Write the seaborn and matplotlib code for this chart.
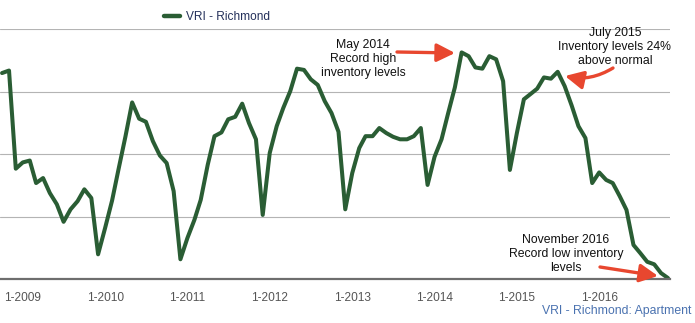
import matplotlib
matplotlib.use("Agg")
import matplotlib.pyplot as plt
import seaborn as sns
import pandas as pd

# ---- data (monthly inventory index, Oct 2008 - Nov 2016; gridline spacing = 100) ----
start_month = "2008-10-01"
inventory = [
    330, 334, 177,                                                  # 2008 Oct-Dec
    187, 190, 154, 162, 138, 120, 92, 112, 125, 144, 130, 40,       # 2009
    82, 126, 175, 228, 283, 257, 252, 221, 198, 186, 141, 32,       # 2010
    66, 95, 127, 183, 229, 235, 256, 260, 281, 250, 224, 103,       # 2011
    202, 245, 274, 301, 337, 335, 320, 311, 285, 266, 236, 112,     # 2012
    170, 210, 229, 229, 242, 234, 228, 224, 224, 229, 242, 151,     # 2013
    196, 224, 264, 307, 363, 357, 339, 337, 357, 352, 317, 175,     # 2014
    234, 288, 296, 305, 323, 321, 332, 309, 278, 245, 226, 154,     # 2015
    171, 159, 154, 133, 111, 55, 42, 28, 24, 10, 2,                 # 2016 Jan-Nov
]
series_name = "VRI - Richmond"
tick_years = [2009, 2010, 2011, 2012, 2013, 2014, 2015, 2016]
tick_labels = [f"1-{y}" for y in tick_years]
grid_levels = [0, 100, 200, 300, 400]
source_label = "VRI - Richmond: Apartment"
notes = [
    "May 2014\nRecord high\ninventory levels",
    "July 2015\nInventory levels 24%\nabove normal",
    "November 2016\nRecord low inventory\nlevels",
]

months = pd.date_range(start_month, periods=len(inventory), freq="MS")
df = pd.DataFrame({"month": months, "inventory": inventory, "series": series_name})

sns.set_style("white")
plt.rcParams["font.family"] = ["Liberation Sans", "DejaVu Sans"]

W, H = 695, 323
fig = plt.figure(figsize=(W / 100, H / 100), dpi=100)
ax_left, ax_right, ax_top, ax_bottom = 0, 670, 29.3, 279.3
ax = fig.add_axes([ax_left / W, (H - ax_bottom) / H,
                   (ax_right - ax_left) / W, (ax_bottom - ax_top) / H])

green = "#2a5d34"
sns.lineplot(data=df, x="month", y="inventory", hue="series",
             palette=[green], linewidth=2.9, ax=ax, legend=True)

ax.set_xlim(pd.Timestamp("2008-09-22"), pd.Timestamp("2016-11-10"))
ax.set_ylim(grid_levels[0], grid_levels[-1])
ax.set_yticks(grid_levels)
ax.set_yticklabels([])
ax.tick_params(axis="y", length=0)
ax.grid(axis="y", color="#b4b4b4", linewidth=0.8)
ax.grid(axis="x", visible=False)
ax.set_axisbelow(True)
for s in ("top", "right", "left"):
    ax.spines[s].set_visible(False)
ax.spines["bottom"].set_color("#6e6e6e")
ax.spines["bottom"].set_linewidth(1.6)
ax.set_xticks([pd.Timestamp(f"{y}-01-01") for y in tick_years])
ax.set_xticklabels(tick_labels)
ax.tick_params(axis="x", length=3.8, width=1.4, color="#6e6e6e",
               labelsize=8.6, labelcolor="#555555", pad=5)
ax.set_xlabel("")
ax.set_ylabel("")

# legend
leg = ax.legend(loc="center left", bbox_to_anchor=(164 / W, 1 - 17 / H),
                bbox_transform=fig.transFigure, frameon=False, fontsize=8.6,
                handlelength=1.35, handletextpad=0.45, borderpad=0, borderaxespad=0)
for t in leg.get_texts():
    t.set_color("#24305a")
for l in leg.get_lines():
    l.set_linewidth(3.2)

# annotations (positions in axes fraction)
def af(px, py):
    return ((px - ax_left) / (ax_right - ax_left), (ax_bottom - py) / (ax_bottom - ax_top))

red = "#e8472f"
arrow = dict(arrowstyle="-|>,head_length=1.1,head_width=0.55", color=red, lw=2.4,
             shrinkA=0, shrinkB=0, mutation_scale=10)
txt = dict(fontsize=8.8, color="#111111", ha="center", va="center", linespacing=1.2)

ax.text(*af(363, 59), notes[0], transform=ax.transAxes, **txt)
ax.annotate("", xy=af(455, 53), xytext=af(397, 52), xycoords="axes fraction",
            textcoords="axes fraction", arrowprops=arrow, annotation_clip=False)

ax.text(*af(615, 47), notes[1], transform=ax.transAxes, clip_on=False, **txt)
ax.annotate("", xy=af(565, 76), xytext=af(613, 68), xycoords="axes fraction",
            textcoords="axes fraction", annotation_clip=False,
            arrowprops=dict(arrow, connectionstyle="arc3,rad=-0.2"))

ax.text(*af(566, 254), notes[2], transform=ax.transAxes, **txt)
ax.annotate("", xy=af(658, 276), xytext=af(600, 267), xycoords="axes fraction",
            textcoords="axes fraction", arrowprops=arrow, annotation_clip=False)

fig.text(691 / W, 1 - 311 / H, source_label, ha="right", va="center",
         fontsize=8.8, color="#4a72b0")

fig.savefig("out.png", dpi=100)
